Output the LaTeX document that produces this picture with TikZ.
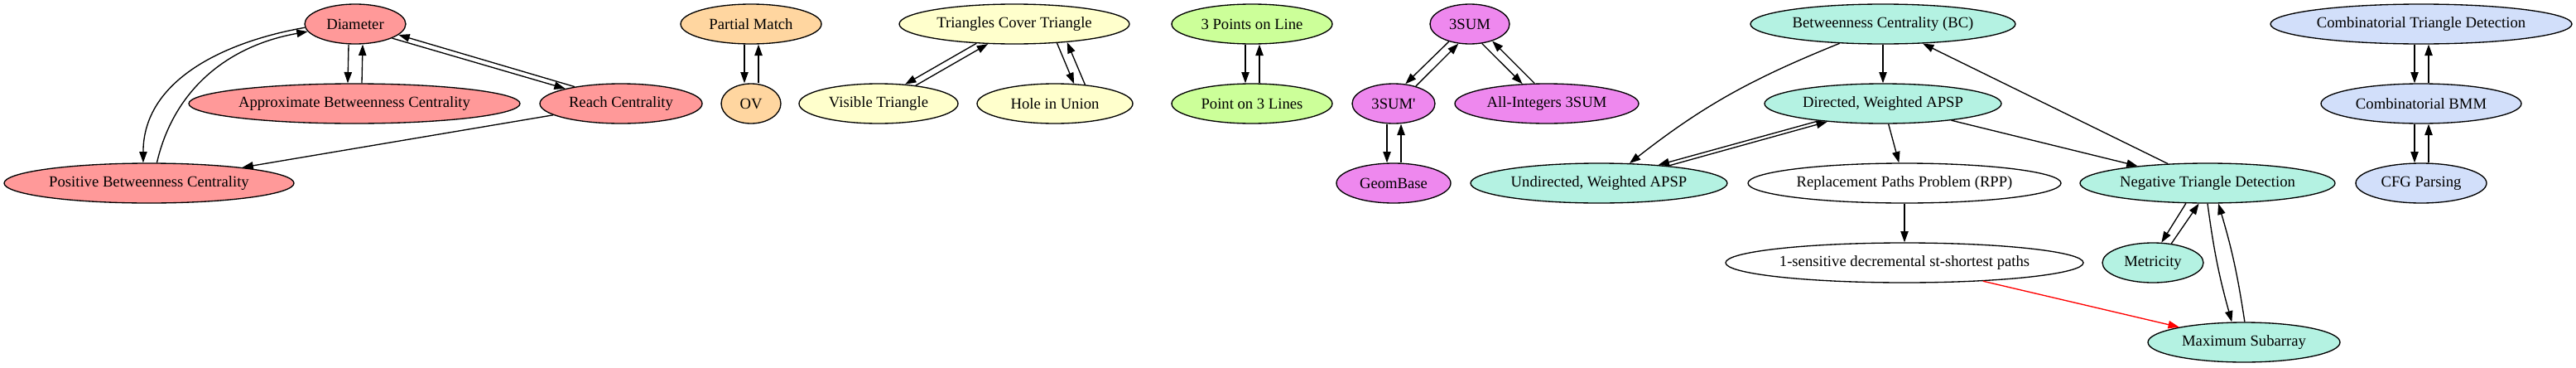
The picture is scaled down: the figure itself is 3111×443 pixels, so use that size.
\documentclass[tikz,border=0pt]{standalone}
\usepackage{fontspec}
\setmainfont{Liberation Serif}
\usepackage{tikz}
\usetikzlibrary{shapes.geometric, arrows.meta, calc}

\definecolor{cpink}{HTML}{FF9999}
\definecolor{cpeach}{HTML}{FFD6A0}
\definecolor{cyellow}{HTML}{FFFFCC}
\definecolor{cgreen}{HTML}{CCFF99}
\definecolor{cviolet}{HTML}{EE88EE}
\definecolor{cmint}{HTML}{B4F2E2}
\definecolor{cblue}{HTML}{D2DFFA}

\begin{document}
\begin{tikzpicture}[x=0.75pt, y=-0.75pt, line width=1pt,
    >={Triangle[length=10pt, width=7pt]},
    prob/.style={ellipse, draw, fill=white, minimum height=36pt, inner sep=0pt,
      font=\fontsize{14pt}{16pt}\selectfont}]
          \useasboundingbox (0,0) rectangle (3111,443);

          \node[prob, fill=cpink, minimum width=91.5pt] (diam) at (429,29) {Diameter};
          \node[prob, fill=cpink, minimum width=300pt] (approx) at (428,125) {Approximate Betweenness Centrality};
          \node[prob, fill=cpink, minimum width=147pt] (reach) at (750,125) {Reach Centrality};
          \node[prob, fill=cpink, minimum width=262.5pt] (pos) at (180,221) {Positive Betweenness Centrality};
          \draw[->] ($(diam.south)+(-8,0)$) -- ($(approx.north)+(-8,0)$);
          \draw[->] ($(approx.north)+(9,0)$) -- ($(diam.south)+(9,0)$);
          \draw[->] (diam.-21) -- (reach.165);
          \draw[->] (reach.160) -- (diam.-14);
          \draw[->] (diam.184) to[out=190, in=90] (pos.106);
          \draw[->] (pos.69) to[out=77, in=190] (diam.189);
          \draw[->] (reach) -- (pos);

          \node[prob, fill=cpeach, minimum width=127.5pt] (pm) at (907,29) {Partial Match};
          \node[prob, fill=cpeach, minimum width=54pt] (ov) at (907,125) {OV};
          \draw[->] ($(pm.south)+(-8,0)$) -- ($(ov.north)+(-8,0)$);
          \draw[->] ($(ov.north)+(9,0)$) -- ($(pm.south)+(9,0)$);

          \node[prob, fill=cyellow, minimum width=208.5pt] (tct) at (1225,29) {Triangles Cover Triangle};
          \node[prob, fill=cyellow, minimum width=144pt] (vis) at (1061,125) {Visible Triangle};
          \node[prob, fill=cyellow, minimum width=141pt] (hole) at (1274,125) {Hole in Union};
          \draw[->] (tct.207) -- (vis.36);
          \draw[->] (vis.26) -- (tct.217);
          \draw[->] (tct.-24) -- (hole.46);
          \draw[->] (hole.32) -- (tct.-19);

          \node[prob, fill=cgreen, minimum width=145.5pt] (ptsline) at (1512,29) {3 Points on Line};
          \node[prob, fill=cgreen, minimum width=145.5pt] (ptlines) at (1512,125) {Point on 3 Lines};
          \draw[->] ($(ptsline.south)+(-8,0)$) -- ($(ptlines.north)+(-8,0)$);
          \draw[->] ($(ptlines.north)+(9,0)$) -- ($(ptsline.south)+(9,0)$);

          \node[prob, fill=cviolet, minimum width=72pt] (tsum) at (1775,29) {3SUM};
          \node[prob, fill=cviolet, minimum width=75pt] (tsump) at (1683,125) {3SUM\textquotesingle};
          \node[prob, fill=cviolet, minimum width=166.5pt] (allint) at (1868,125) {All-Integers 3SUM};
          \node[prob, fill=cviolet, minimum width=103.5pt] (geom) at (1683,221) {GeomBase};
          \draw[->] (tsum.220) -- (tsump.59);
          \draw[->] (tsump.38) -- (tsum.240);
          \draw[->] (tsum.302) -- (allint.141);
          \draw[->] (allint.121) -- (tsum.323);
          \draw[->] ($(tsump.south)+(-8,0)$) -- ($(geom.north)+(-8,0)$);
          \draw[->] ($(geom.north)+(9,0)$) -- ($(tsump.south)+(9,0)$);

          \node[prob, fill=cmint, minimum width=240pt] (bc) at (2274,29) {Betweenness Centrality (BC)};
          \node[prob, fill=cmint, minimum width=214.5pt] (dapsp) at (2274,125) {Directed, Weighted APSP};
          \node[prob, fill=cmint, minimum width=232.5pt] (uapsp) at (1931,221) {Undirected, Weighted APSP};
          \node[prob, minimum width=283.5pt] (rpp) at (2300,221) {Replacement Paths Problem (RPP)};
          \node[prob, minimum width=324pt] (sens) at (2300,317) {1-sensitive decremental st-shortest paths};
          \node[prob, fill=cmint, minimum width=231pt] (ntd) at (2666,221) {Negative Triangle Detection};
          \node[prob, fill=cmint, minimum width=91.5pt] (met) at (2600,317) {Metricity};
          \node[prob, fill=cmint, minimum width=174pt] (maxsub) at (2710,413) {Maximum Subarray};
          \draw[->] (bc) -- (dapsp);
          \draw[->] (bc.204) to[out=202, in=38] (uapsp.33);
          \draw[->] (dapsp.195) -- (uapsp.17);
          \draw[->] (uapsp.14) -- (dapsp.198);
          \draw[->] (dapsp) -- (rpp);
          \draw[->] (dapsp) -- (ntd);
          \draw[->] (ntd) -- (bc);
          \draw[->] (rpp) -- (sens);
          \draw[->, red] (sens) -- (maxsub);
          \draw[->] (ntd.223) -- (met.67);
          \draw[->] (met.46) -- (ntd.247);
          \draw[->] (ntd.270) to[bend right=4] (maxsub.121);
          \draw[->] (maxsub.88) to[bend right=4] (ntd.298);

          \node[prob, fill=cblue, minimum width=273pt] (ctd) at (2924,29) {Combinatorial Triangle Detection};
          \node[prob, fill=cblue, minimum width=181.5pt] (bmm) at (2924,125) {Combinatorial BMM};
          \node[prob, fill=cblue, minimum width=118.5pt] (cfg) at (2924,221) {CFG Parsing};
          \draw[->] ($(ctd.south)+(-8,0)$) -- ($(bmm.north)+(-8,0)$);
          \draw[->] ($(bmm.north)+(9,0)$) -- ($(ctd.south)+(9,0)$);
          \draw[->] ($(bmm.south)+(-8,0)$) -- ($(cfg.north)+(-8,0)$);
          \draw[->] ($(cfg.north)+(9,0)$) -- ($(bmm.south)+(9,0)$);
      \end{tikzpicture}
\end{document}
